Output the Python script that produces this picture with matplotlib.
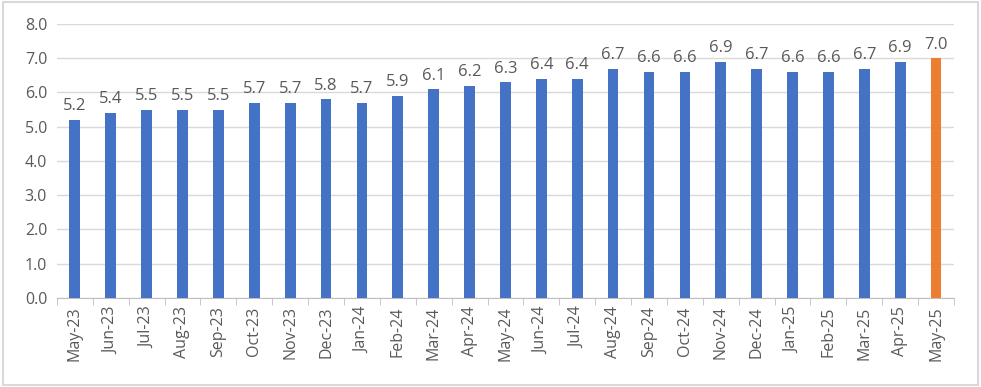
import numpy as np
import matplotlib.pyplot as plt
from matplotlib.patches import Rectangle

months = ['May-23', 'Jun-23', 'Jul-23', 'Aug-23', 'Sep-23', 'Oct-23', 'Nov-23',
          'Dec-23', 'Jan-24', 'Feb-24', 'Mar-24', 'Apr-24', 'May-24', 'Jun-24',
          'Jul-24', 'Aug-24', 'Sep-24', 'Oct-24', 'Nov-24', 'Dec-24', 'Jan-25',
          'Feb-25', 'Mar-25', 'Apr-25', 'May-25']
values = [5.2, 5.4, 5.5, 5.5, 5.5, 5.7, 5.7, 5.8, 5.7, 5.9, 6.1, 6.2, 6.3, 6.4,
          6.4, 6.7, 6.6, 6.6, 6.9, 6.7, 6.6, 6.6, 6.7, 6.9, 7.0]
yticks = [0, 1, 2, 3, 4, 5, 6, 7, 8]

plt.rcParams['font.family'] = ['Open Sans', 'DejaVu Sans']
grey = '#595959'

fig = plt.figure(figsize=(9.81, 3.87), dpi=100)
ax = fig.add_axes([0.058, 0.23, 0.9145, 0.708])

x = np.arange(len(months))
colors = ['#4472C4'] * (len(months) - 1) + ['#ED7D31']
ax.bar(x, values, width=0.3, color=colors, zorder=3)

for xi, v in zip(x, values):
    ax.annotate(f'{v:.1f}', (xi, v), xytext=(0, 4), textcoords='offset points',
                ha='center', va='bottom', fontsize=12, color=grey)

ax.set_xlim(-0.5, len(months) - 0.5)
ax.set_ylim(0, 8)
ax.set_yticks(yticks)
ax.set_yticklabels([f'{t:.1f}' for t in yticks], fontsize=11.5, color=grey)
ax.yaxis.grid(True, color='#D9D9D9', linewidth=1, zorder=0)
ax.tick_params(axis='y', length=0, pad=7)

ax.set_xticks(x)
ax.set_xticklabels(months, rotation=90, fontsize=11.5, color=grey)
ax.tick_params(axis='x', which='major', length=0, pad=6)
ax.set_xticks(np.arange(-0.5, len(months)), minor=True)
ax.tick_params(axis='x', which='minor', length=5, color='#BFBFBF', direction='out')

for s in ['left', 'right', 'top']:
    ax.spines[s].set_visible(False)
ax.spines['bottom'].set_color('#BFBFBF')

fig.patches.append(Rectangle((0.003, 0.005), 0.994, 0.99, transform=fig.transFigure,
                             fill=False, edgecolor='#D9D9D9', linewidth=1.5))

fig.savefig('out.png', dpi=100)
